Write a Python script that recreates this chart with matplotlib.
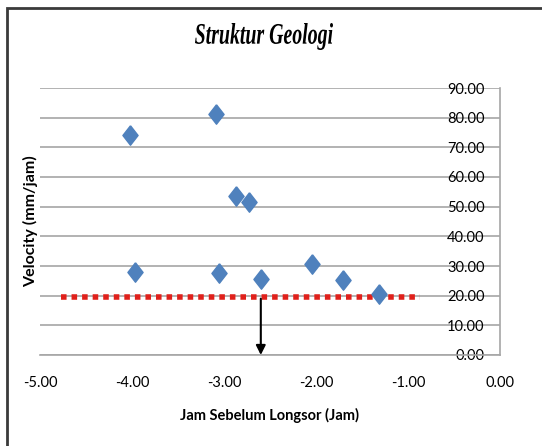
import matplotlib
matplotlib.use('Agg')
import matplotlib.pyplot as plt
import matplotlib.patches as patches
from matplotlib.textpath import TextPath
from matplotlib.font_manager import FontProperties
from matplotlib.transforms import Affine2D, IdentityTransform

# data
jam = [-4.02, -3.97, -3.09, -3.05, -2.87, -2.73, -2.60, -2.04, -1.71, -1.31]
velocity = [74.2, 28.1, 81.1, 27.7, 53.7, 51.5, 25.7, 30.6, 25.2, 20.6]

threshold_x = [-4.77, -0.87]
threshold_y = [19.6, 19.6]

arrow_x = -2.6
arrow_top = 19.0

xticks = [-5, -4, -3, -2, -1, 0]
yticks = [0, 10, 20, 30, 40, 50, 60, 70, 80, 90]

plt.rcParams['font.family'] = ['Lato', 'DejaVu Sans']

W, H = 542, 446
fig = plt.figure(figsize=(W / 100, H / 100), dpi=100)
ax = fig.add_axes([40 / W, 1 - 355 / H, 460 / W, 267 / H])

# outer chart frame (cut off on right and bottom like the reference)
frame = patches.Rectangle((7 / W, -0.2), 1.2, 1 - 8 / H + 0.2, transform=fig.transFigure,
                          fill=False, edgecolor='#3a3a3a', linewidth=2, clip_on=False)
fig.patches.append(frame)

ax.set_xlim(-5, 0)
ax.set_ylim(0, 90)
ax.set_yticks(yticks)
ax.set_xticks(xticks)
ax.set_xticklabels([f'{v:.2f}' for v in xticks], fontsize=10.5)
ax.set_yticklabels([f'{v:.2f}' for v in yticks], fontsize=10.5)

ax.grid(axis='y', color='#a6a6a6', linewidth=1.2)
ax.set_axisbelow(True)

for s in ['top', 'left']:
    ax.spines[s].set_visible(False)
for s in ['right', 'bottom']:
    ax.spines[s].set_color('#a6a6a6')
    ax.spines[s].set_linewidth(1.2)

ax.yaxis.tick_right()
ax.tick_params(axis='y', length=0, pad=-11)
for lab in ax.get_yticklabels():
    lab.set_horizontalalignment('right')
ax.tick_params(axis='x', length=0, pad=15)

ax.plot(threshold_x, threshold_y, color='#e0201b', linewidth=4, linestyle=(0, (1, 0.9)), zorder=3)

# Excel style diamond: a bit taller than wide
diamond = [(0, 1), (0.78, 0), (0, -1), (-0.78, 0), (0, 1)]
ax.plot(jam, velocity, linestyle='none', marker=diamond, markersize=14, color='#4f81bd', zorder=4)

ax.annotate('', xy=(arrow_x, 0), xytext=(arrow_x, arrow_top),
            arrowprops=dict(arrowstyle='-|>', color='black', lw=1.5, mutation_scale=14,
                            shrinkA=0, shrinkB=0), zorder=5)

ax.set_xlabel('Jam Sebelum Longsor (Jam)', fontsize=10.5, fontweight='bold', labelpad=13)
fig.text(31 / W, 1 - 221 / H, 'Velocity (mm/jam)', rotation=90, fontsize=11.5,
         fontweight='bold', ha='center', va='center')

# condensed bold italic serif title, squeezed to the reference width
fp = FontProperties(family='Liberation Serif', weight='bold', style='italic', size=20)
tp = TextPath((0, 0), 'Struktur Geologi', prop=fp)
bb = tp.get_extents()
sx = 138 / bb.width
sy = 27 / bb.height
tr = Affine2D().translate(-bb.x0 - bb.width / 2, -bb.y0).scale(sx, sy).translate(264, H - 50)
title_path = tr.transform_path(tp)
fig.add_artist(patches.PathPatch(title_path, transform=IdentityTransform(),
                                 facecolor='black', edgecolor='none'))

plt.savefig('out.png', dpi=100)
